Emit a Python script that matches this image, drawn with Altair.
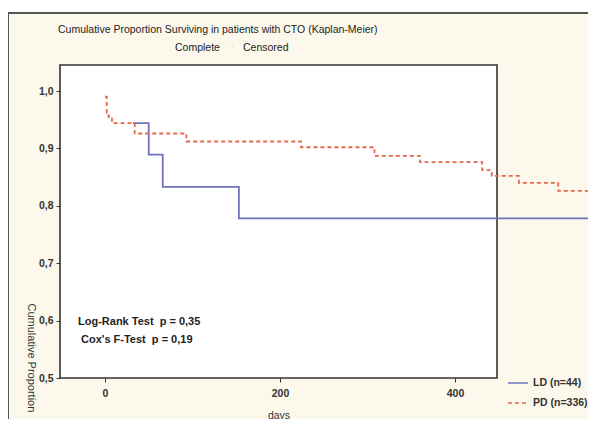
import altair as alt
import pandas as pd

# ---- data ----
ld_days = [32, 50, 66, 153, 569]
ld_surv = [0.944, 0.889, 0.833, 0.778, 0.778]

pd_days = [0, 2, 4, 8, 34, 93, 224, 308, 360, 431, 442, 473, 518, 569]
pd_surv = [0.99, 0.962, 0.955, 0.944, 0.926, 0.912, 0.902, 0.887, 0.876, 0.862, 0.852, 0.840, 0.826, 0.826]

series_names = ["LD (n=44)", "PD (n=336)"]
series_colors = ["#6f73bb", "#e5674e"]
x_ticks = [0, 200, 400]
y_ticks = [0.5, 0.6, 0.7, 0.8, 0.9, 1.0]

NB = "\u00a0"
title_text = "Cumulative Proportion Surviving in patients with CTO (Kaplan-Meier)"
subtitle_left = "Complete"
subtitle_right = "Censored"
stat_lines = ["Log-Rank Test" + NB * 2 + "p = 0,35", "Cox's F-Test" + NB * 2 + "p = 0,19"]
y_title = "Cumulative Proportion"
x_title = "days"

CREAM = "#fcf8ec"
FONT = "Liberation Sans"
W, H = 437, 313

rows = []
for d, s in zip(ld_days, ld_surv):
    rows.append({"day": d, "surv": s, "group": series_names[0]})
for d, s in zip(pd_days, pd_surv):
    rows.append({"day": d, "surv": s, "group": series_names[1]})
df = pd.DataFrame(rows)
dummy = pd.DataFrame({"a": [0]})

xs = alt.Scale(domain=[-51.4, 448], nice=False, zero=False)
ys = alt.Scale(domain=[0.5, 1.0453], nice=False, zero=False)

frame = alt.Chart(dummy).mark_rect(fill=CREAM, stroke="#555", strokeWidth=2).encode(
    x=alt.value(-52), x2=alt.value(W + 200), y=alt.value(-52), y2=alt.value(H + 200)
)
box = alt.Chart(dummy).mark_rect(fill="white", stroke="#333", strokeWidth=1.6).encode(
    x=alt.value(0), x2=alt.value(W), y=alt.value(0), y2=alt.value(H)
)

leg = dict(title=None, orient="none", legendX=447, legendY=307,
           symbolType="stroke", symbolSize=400, symbolStrokeWidth=1.6,
           labelFontSize=10.5, labelFontWeight="bold",
           labelColor="#333", rowPadding=3, labelFont=FONT)

lines = alt.Chart(df).mark_line(interpolate="step-after", strokeWidth=1.8).encode(
    x=alt.X("day:Q", scale=xs,
            axis=alt.Axis(values=x_ticks, title=x_title, grid=False, domain=False,
                          tickSize=4, tickColor="#333", labelPadding=6,
                          titleY=37, titleBaseline="middle", zindex=1)),
    y=alt.Y("surv:Q", scale=ys,
            axis=alt.Axis(values=y_ticks, title=y_title, grid=False, domain=False,
                          tickSize=4, tickColor="#333", labelPadding=3,
                          labelExpr="replace(format(datum.value, '.1f'), '.', ',')",
                          titleAngle=90, titleAlign="left", titleBaseline="middle",
                          titleX=-30, titleY=238, titleFontSize=11, zindex=1)),
    color=alt.Color("group:N", scale=alt.Scale(domain=series_names, range=series_colors),
                    legend=alt.Legend(**leg)),
    strokeDash=alt.StrokeDash("group:N",
                              scale=alt.Scale(domain=series_names, range=[[1, 0], [4, 3]]),
                              legend=alt.Legend(**leg)),
    order="day:Q",
)

def label(text, x, y, size=10.5, weight="normal"):
    return alt.Chart(dummy).mark_text(align="left", baseline="middle", fontSize=size,
                                      fontWeight=weight, font=FONT, color="#222").encode(
        x=alt.value(x), y=alt.value(y), text=alt.value(text))

title = label(title_text, -2, -35)
sub1 = label(subtitle_left, 115, -17)
sub2 = label(subtitle_right, 183, -17)
sub_mark = alt.Chart(dummy).mark_text(align="center", baseline="middle", fontSize=9,
                                      color="#f0b8a8").encode(
    x=alt.value(172), y=alt.value(-17), text=alt.value("'"))
stat1 = label(stat_lines[0], 18, 257, size=11, weight="bold")
stat2 = label(stat_lines[1], 21, 275, size=11, weight="bold")

chart = alt.layer(frame, box, lines, title, sub1, sub_mark, sub2, stat1, stat2).properties(
    width=W, height=H,
    autosize=alt.AutoSizeParams(type="none"),
    padding={"left": 52, "top": 57, "right": 91, "bottom": 41},
    background="white",
).configure_view(stroke=None).configure_axis(
    labelFont=FONT, titleFont=FONT, labelFontSize=10.5, labelFontWeight="bold",
    labelColor="#333", titleColor="#333", titleFontSize=10.5, titleFontWeight="normal",
)

chart.save("out.html", embed_options={"renderer": "svg", "actions": False})
